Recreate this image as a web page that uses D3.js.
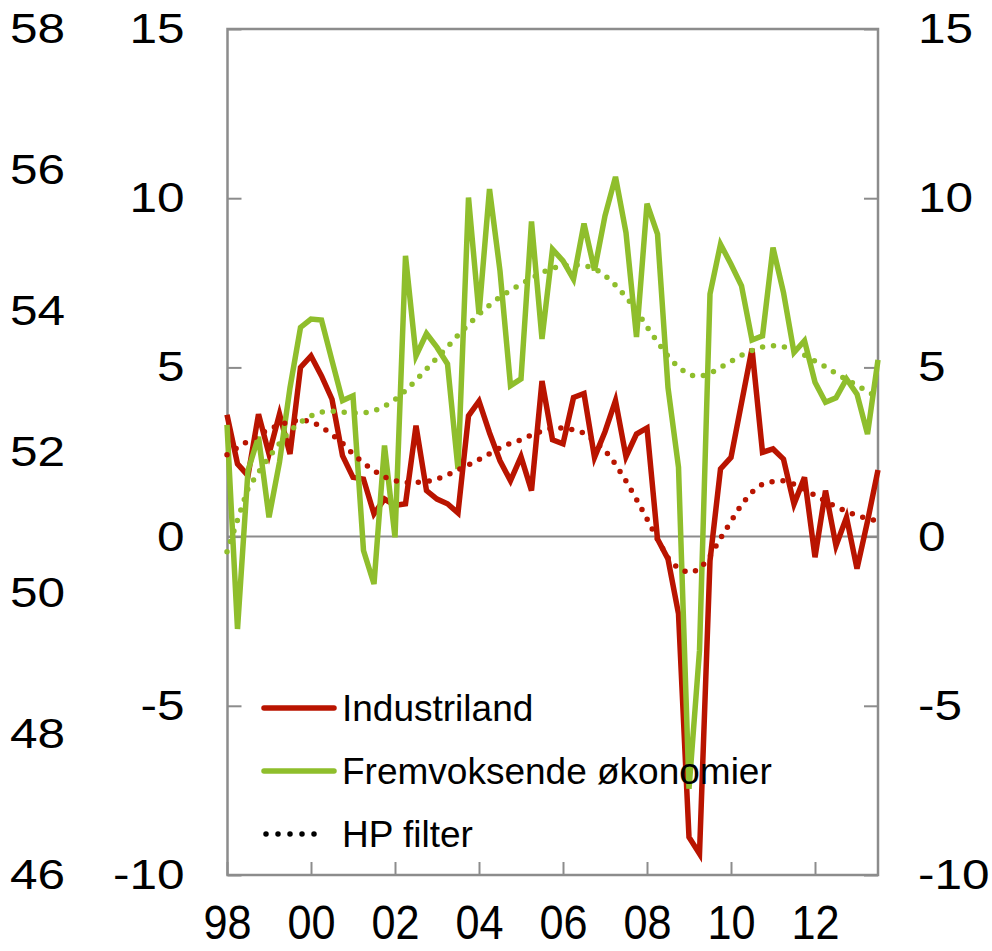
<!DOCTYPE html>
<html>
<head>
<meta charset="utf-8">
<script src="https://cdn.jsdelivr.net/npm/d3@7"></script>
<style>
body { margin: 0; background: #fff; }
text { font-family: "Liberation Sans", Arial, sans-serif; fill: #000; }
</style>
</head>
<body>
<div id="chart"></div>
<script>
// quarterly data, 1998Q1 - 2013Q3
var startYear = 1998;
var industriland = [3.6, 2.15, 1.8, 3.62, 2.44, 3.62, 2.44, 5.0, 5.34, 4.75,
  4.06, 2.39, 1.75, 1.7, 0.67, 1.11, 0.92, 0.97, 3.28, 1.36,
  1.11, 0.97, 0.7, 3.57, 4.0, 3.07, 2.24, 1.65, 2.36, 1.36,
  4.6, 2.86, 2.74, 4.11, 4.23, 2.34, 3.1, 4.02, 2.36, 3.03,
  3.21, -0.07, -0.66, -2.28, -8.88, -9.37, -0.71, 2.0, 2.34, 3.95,
  5.55, 2.49, 2.59, 2.29, 0.96, 1.75, -0.61, 1.36, -0.27, 0.57,
  -0.95, 0.45, 1.97];
var fremvoksende = [3.3, -2.73, 1.95, 2.95, 0.57, 2.2, 4.4, 6.18, 6.43, 6.40,
  5.2, 4.02, 4.16, -0.41, -1.4, 2.69, -0.02, 8.3, 5.34, 6.0,
  5.59, 5.1, 2.0, 10.02, 6.58, 10.27, 7.85, 4.46, 4.66, 9.31,
  5.84, 8.49, 8.15, 7.61, 9.25, 7.87, 9.48, 10.63, 8.98, 5.9,
  9.84, 8.94, 4.4, 2.05, -7.45, -3.37, 7.17, 8.64, 8.05, 7.41,
  5.81, 5.93, 8.54, 7.21, 5.44, 5.79, 4.56, 3.97, 4.1, 4.66,
  4.21, 3.03, 5.22];
var industrilandHP = [2.42, 2.63, 2.82, 3.0, 3.18, 3.3, 3.4, 3.45, 3.4, 3.24,
  3.02, 2.76, 2.44, 2.17, 1.95, 1.76, 1.65, 1.6, 1.6, 1.62,
  1.7, 1.82, 1.97, 2.12, 2.28, 2.45, 2.62, 2.76, 2.86, 3.0,
  3.12, 3.21, 3.21, 3.16, 3.06, 2.82, 2.55, 2.14, 1.64, 1.1,
  0.52, -0.08, -0.63, -0.95, -1.07, -0.97, -0.58, -0.05, 0.45, 0.95,
  1.32, 1.55, 1.63, 1.65, 1.55, 1.4, 1.22, 1.05, 0.88, 0.75,
  0.62, 0.53, 0.46];
var fremvoksendeHP = [-0.45, 0.49, 1.42, 1.9, 2.35, 2.75, 3.13, 3.38, 3.57, 3.68,
  3.71, 3.68, 3.65, 3.65, 3.71, 3.85, 4.05, 4.31, 4.62, 4.95,
  5.28, 5.6, 5.95, 6.27, 6.57, 6.84, 7.08, 7.28, 7.46, 7.64,
  7.8, 7.93, 8.0, 8.03, 8.02, 7.92, 7.72, 7.43, 7.08, 6.68,
  6.2, 5.75, 5.33, 5.0, 4.78, 4.73, 4.82, 5.0, 5.18, 5.36,
  5.5, 5.6, 5.64, 5.61, 5.5, 5.36, 5.19, 5.02, 4.82, 4.64,
  4.47, 4.29, 4.11];

var yearTicks = [1998, 2000, 2002, 2004, 2006, 2008, 2010, 2012];
var yearLabels = ["98", "00", "02", "04", "06", "08", "10", "12"];
var mainTicks = [-10, -5, 0, 5, 10, 15];
var leftTicks = [46, 48, 50, 52, 54, 56, 58];
var legendNames = ["Industriland", "Fremvoksende økonomier", "HP filter"];

var red = "#b91400";
var green = "#8fbe2c";
var axisGrey = "#8c8c8c";

var svgWidth = 992, svgHeight = 951;
var plot = { left: 227.5, right: 878, top: 29, bottom: 875 };

var svg = d3.select("#chart").append("svg")
  .attr("width", svgWidth)
  .attr("height", svgHeight);

// scales
var x = d3.scaleLinear().domain([1998, 2013.5]).range([227, 878]);
var y = d3.scaleLinear().domain([-10, 15]).range([plot.bottom, plot.top]);
var yLeft = d3.scaleLinear().domain([46, 58]).range([plot.bottom, plot.top]);

var quarterX = function(i) { return x(startYear + i / 4); };

// frame
svg.append("rect")
  .attr("x", plot.left).attr("y", plot.top)
  .attr("width", plot.right - plot.left).attr("height", plot.bottom - plot.top)
  .attr("fill", "none").attr("stroke", axisGrey).attr("stroke-width", 2.5);

// zero line
svg.append("line")
  .attr("x1", plot.left).attr("x2", plot.right)
  .attr("y1", y(0)).attr("y2", y(0))
  .attr("stroke", axisGrey).attr("stroke-width", 2);

function styleAxis(g, fontSize, sx) {
  g.select(".domain").remove();
  g.selectAll(".tick line").attr("stroke", axisGrey).attr("stroke-width", 2);
  g.selectAll(".tick text")
    .attr("font-size", fontSize)
    .attr("fill", "#000")
    .attr("x", function() { return +d3.select(this).attr("x") / sx; })
    .attr("transform", "scale(" + sx + ",1)");
}

// middle y axis
svg.append("g")
  .attr("transform", `translate(${plot.left},0)`)
  .call(d3.axisLeft(y).tickValues(mainTicks).tickSize(-14).tickPadding(43)
    .tickFormat(d => String(d)))
  .call(g => styleAxis(g, 42, 1.18));

// right y axis
svg.append("g")
  .attr("transform", `translate(${plot.right},0)`)
  .call(d3.axisRight(y).tickValues(mainTicks).tickSize(-14).tickPadding(40)
    .tickFormat(d => String(d)))
  .call(g => styleAxis(g, 42, 1.18));

// left (outer) y axis
svg.append("g")
  .attr("transform", "translate(10,0)")
  .call(d3.axisRight(yLeft).tickValues(leftTicks).tickSize(0).tickPadding(0)
    .tickFormat(d => String(d)))
  .call(g => styleAxis(g, 42, 1.18));

// x axis
svg.append("g")
  .attr("transform", `translate(0,${plot.bottom})`)
  .call(d3.axisBottom(x).tickValues(yearTicks).tickSize(-13).tickPadding(30)
    .tickFormat((d, i) => yearLabels[i]))
  .call(g => styleAxis(g, 48, 0.9));

// lines
var line = d3.line()
  .x((d, i) => quarterX(i))
  .y(d => y(d));

function drawLine(values, color, dotted) {
  var p = svg.append("path")
    .datum(values)
    .attr("d", line)
    .attr("fill", "none")
    .attr("stroke", color)
    .attr("stroke-width", dotted ? 5.5 : 5.5);
  if (dotted) {
    p.attr("stroke-dasharray", "0,11").attr("stroke-linecap", "round");
  } else {
    p.attr("stroke-linejoin", "miter");
  }
}

drawLine(industriland, red, false);
drawLine(fremvoksende, green, false);
drawLine(industrilandHP, red, true);
drawLine(fremvoksendeHP, green, true);

// legend
var legendColors = [red, green, "#000"];
var legend = svg.append("g").attr("transform", "translate(264,708)");
legendNames.forEach(function(name, i) {
  var row = legend.append("g").attr("transform", `translate(0,${i * 63})`);
  var l = row.append("line")
    .attr("x1", i == 2 ? 2 : 0).attr("x2", i == 2 ? 62 : 70)
    .attr("y1", 0).attr("y2", 0)
    .attr("stroke", legendColors[i])
    .attr("stroke-width", 5.5)
    .attr("stroke-linecap", "round");
  if (i == 2) l.attr("stroke-dasharray", "0,12");
  row.append("text")
    .attr("x", 78)
    .attr("y", 13)
    .attr("font-size", 37)
    .text(name);
});
</script>
</body>
</html>
